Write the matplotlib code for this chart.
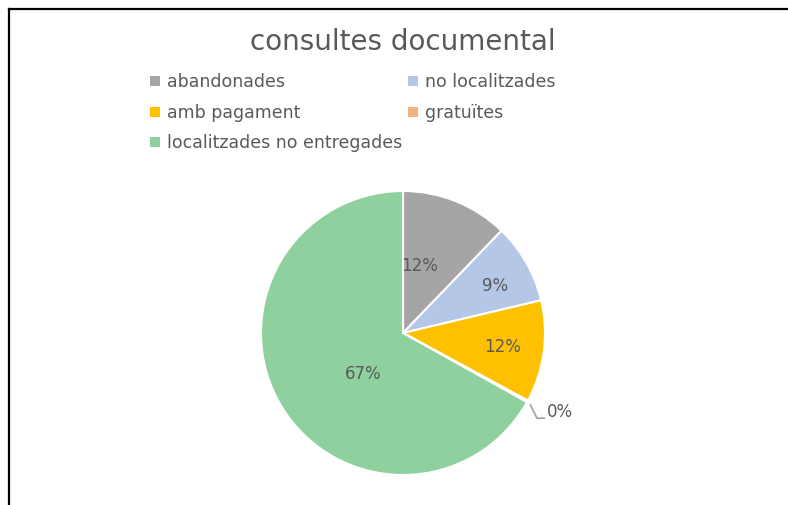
import matplotlib
matplotlib.use("Agg")
import matplotlib.pyplot as plt
from matplotlib.lines import Line2D
from matplotlib.patches import Rectangle
import numpy as np

categories = ["abandonades", "no localitzades", "amb pagament", "gratuïtes", "localitzades no entregades"]
values = [12.2, 9.1, 11.6, 0.2, 66.9]
colors = ["#A5A5A5", "#B4C7E7", "#FFC000", "#F4B183", "#8FD19E"]
title = "consultes documental"
label_dist = [0.49, 0.73, 0.71, 1.0, 0.40]
label_ang_off = [-8, 2, 0, 0, -15]  # clockwise degrees

W, H = 788, 506
fig = plt.figure(figsize=(W / 100, H / 100), dpi=100)
ax = fig.add_axes([0, 0, 1, 1])

txtc = "#595959"
cx, cy, r = 403, H - 334, 142

wedges, texts, autotexts = ax.pie(
    values, colors=colors, startangle=90, counterclock=False,
    center=(cx, cy), radius=r, autopct="%1.0f%%", pctdistance=0.55,
    wedgeprops=dict(edgecolor="white", linewidth=1.5),
    textprops=dict(color=txtc, fontsize=12), frame=True)
ax.set_xlim(0, W)
ax.set_ylim(0, H)
ax.set_aspect("equal")
ax.axis("off")

for i, (w, t) in enumerate(zip(wedges, autotexts)):
    if values[i] < 1:
        ex, ey = cx + r * np.cos(np.deg2rad(w.theta1)), cy + r * np.sin(np.deg2rad(w.theta1))
        x1, y1 = ex + 3, ey - 2
        x2, y2 = ex + 10, ey - 16
        x3 = x2 + 8
        ax.plot([x1, x2, x3], [y1, y2, y2], color="#A6A6A6", lw=1.3, solid_capstyle="butt")
        t.set_position((x3 + 2, y2 + 7))
        t.set_ha("left")
        t.set_va("center")
    else:
        ang = np.deg2rad((w.theta1 + w.theta2) / 2 - label_ang_off[i])
        d = label_dist[i] * r
        t.set_position((cx + d * np.cos(ang), cy + d * np.sin(ang)))

ax.text(403, H - 42, title, ha="center", va="center", fontsize=20, color=txtc)

# legend
leg_cols_x = [155, 413]
leg_rows_y = [82, 113, 143]
order = [(0, 0, 0), (1, 0, 1), (2, 1, 0), (3, 1, 1), (4, 2, 0)]
for idx, row, col in order:
    x = leg_cols_x[col]
    y = H - leg_rows_y[row]
    ax.add_patch(Rectangle((x - 5, y - 5), 10, 10, color=colors[idx], lw=0))
    ax.text(x + 12, y, categories[idx], ha="left", va="center", fontsize=12.5, color=txtc)

# frame lines (left and top)
ax.add_line(Line2D([9, 9], [0, H - 10], color="black", lw=1.6))
ax.add_line(Line2D([9, W], [H - 10, H - 10], color="black", lw=1.6))

fig.savefig("out.png", dpi=100)
